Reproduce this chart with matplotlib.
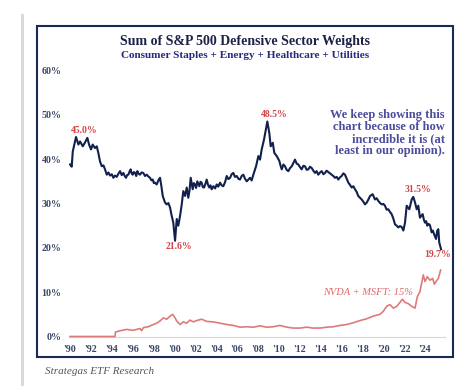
import numpy as np
import matplotlib.pyplot as plt
from matplotlib.patches import Rectangle
from matplotlib.lines import Line2D

# Datos (anio decimal, % del S&P 500)
anios_def = [1990.0, 1990.16, 1990.26, 1990.57, 1990.8, 1990.96, 1991.22, 1991.44, 1991.66, 1991.82,
             1992.01, 1992.17, 1992.39, 1992.56, 1992.71, 1992.87, 1993.04, 1993.2, 1993.35, 1993.52,
             1993.68, 1993.83, 1994.0, 1994.15, 1994.3, 1994.47, 1994.63, 1994.79, 1994.95, 1995.11,
             1995.24, 1995.36, 1995.47, 1995.58, 1995.7, 1995.81, 1995.9, 1996.0, 1996.12, 1996.23,
             1996.34, 1996.45, 1996.58, 1996.7, 1996.86, 1997.02, 1997.18, 1997.35, 1997.5, 1997.66,
             1997.8, 1997.92, 1998.03, 1998.14, 1998.3, 1998.5, 1998.62, 1998.75,
             1998.88, 1999.1, 1999.26, 1999.42, 1999.58, 1999.74, 1999.89, 2000.06, 2000.22, 2000.37, 2000.54,
             2000.7, 2000.85, 2001.02, 2001.18, 2001.33, 2001.45, 2001.56, 2001.75, 2001.86, 2001.97, 2002.08,
             2002.19, 2002.39, 2002.5, 2002.61, 2002.72, 2002.84, 2002.96, 2003.09, 2003.22, 2003.34, 2003.45,
             2003.57, 2003.73, 2003.9, 2004.05, 2004.2, 2004.37, 2004.52, 2004.68, 2004.85, 2005.01,
             2005.17, 2005.33, 2005.48, 2005.64, 2005.8, 2005.97, 2006.12, 2006.28, 2006.44, 2006.6, 2006.76,
             2006.93, 2007.08, 2007.24, 2007.4, 2007.56, 2007.82, 2008.04,
             2008.2, 2008.36, 2008.58, 2008.75, 2008.9, 2009.09, 2009.22, 2009.42, 2009.57, 2009.8,
             2010.05, 2010.16, 2010.28, 2010.44, 2010.59, 2010.75, 2010.91, 2011.08, 2011.24, 2011.4, 2011.55,
             2011.71, 2011.87, 2012.03, 2012.19, 2012.35, 2012.51, 2012.67, 2012.83, 2012.99, 2013.15, 2013.31,
             2013.47, 2013.62, 2013.78, 2013.95, 2014.11, 2014.27, 2014.43, 2014.58, 2014.74, 2014.9, 2015.07,
             2015.22, 2015.38, 2015.54, 2015.7, 2015.86, 2016.02, 2016.18, 2016.34, 2016.5, 2016.66, 2016.82,
             2016.98, 2017.14, 2017.3, 2017.46, 2017.61, 2017.78, 2017.94, 2018.1, 2018.26, 2018.42, 2018.58,
             2018.74, 2018.99,
             2019.21, 2019.37, 2019.53, 2019.7, 2019.86, 2020.02, 2020.17, 2020.33, 2020.49, 2020.65, 2020.81,
             2020.97, 2021.13, 2021.29, 2021.45, 2021.61, 2021.77, 2021.93,
             2022.09, 2022.25, 2022.5, 2022.73, 2022.88, 2023.05, 2023.21, 2023.36, 2023.52, 2023.78,
             2023.9, 2024.0, 2024.12, 2024.22, 2024.35, 2024.48, 2024.64, 2024.76, 2024.87, 2025.06, 2025.18,
             2025.28, 2025.37, 2025.54]
defensivos = [38.8, 38.3, 41.7, 45.0, 43.3, 44.0, 42.9, 43.8, 44.8, 43.3,
              42.2, 43.3, 42.5, 42.9, 41.4, 39.5, 38.4, 38.6, 37.7, 36.5,
              37.0, 36.3, 36.6, 35.8, 36.3, 36.0, 36.7, 37.3, 36.4, 36.9,
              36.2, 35.8, 36.4, 36.5, 37.2, 37.7, 36.8, 36.5, 37.1, 36.9,
              36.2, 37.3, 36.7, 36.5, 37.0, 36.9, 36.2, 36.5, 36.1, 35.8,
              35.2, 35.4, 34.6, 34.7, 34.3, 35.4, 35.8, 33.9,
              31.7, 30.2, 29.8, 30.1, 29.1, 27.2, 25.7, 21.6, 26.5, 25.0, 27.2,
              29.8, 32.8, 31.7, 33.6, 31.3, 33.0, 35.8, 33.2, 34.6, 34.3, 33.5,
              35.0, 33.9, 34.9, 34.7, 33.7, 33.6, 34.4, 35.4, 34.2, 33.6, 34.1,
              33.2, 33.9, 33.4, 34.3, 33.8, 34.7, 34.1, 33.9, 34.8, 36.2,
              35.5, 35.8, 36.6, 36.9, 36.0, 36.2, 35.6, 35.4, 36.2, 36.5, 35.6,
              35.0, 35.4, 35.8, 35.2, 36.5, 38.4, 40.7,
              39.9, 42.2, 44.4, 46.6, 48.5, 45.9, 42.9, 43.7, 41.4, 40.7,
              39.6, 38.6, 37.7, 38.8, 38.4, 37.6, 37.3, 38.0, 38.4, 39.2, 39.9,
              39.0, 38.8, 38.2, 37.7, 38.5, 38.4, 37.6, 37.7, 38.3, 38.0, 37.4,
              36.9, 37.3, 36.5, 37.0, 37.3, 36.6, 36.9, 37.4, 37.1, 36.8, 36.5,
              36.2, 35.8, 36.0, 35.4, 35.9, 36.2, 36.8, 36.5, 35.6, 34.7, 34.2,
              33.6, 33.9, 33.2, 32.6, 31.7, 31.3, 30.9, 30.4, 29.8, 30.2, 30.9,
              31.7, 32.1,
              30.9, 31.2, 30.6, 30.1, 29.8, 29.9, 29.5, 28.6, 28.7, 28.1, 27.6,
              26.6, 25.3, 25.0, 24.6, 24.9, 24.7, 23.9,
              25.7, 29.5, 28.7, 30.9, 31.5, 30.2, 28.7, 29.5, 26.8, 27.6,
              26.3, 25.7, 26.0, 25.0, 25.4, 25.1, 23.5, 23.9, 23.1, 22.0, 23.9,
              24.2, 21.2, 19.7]

anios_nm = [1990.0, 1994.31, 1994.35, 1994.79, 1995.43, 1996.07, 1996.7, 1996.86, 1997.02, 1997.5,
            1997.98, 1998.3, 1998.62, 1998.94, 1999.26, 1999.58, 1999.83, 2000.06, 2000.22, 2000.54,
            2000.85, 2001.18, 2001.49, 2001.81, 2002.13, 2002.61, 2003.09, 2003.73, 2004.37, 2005.01,
            2005.64, 2006.28, 2006.93, 2007.56, 2008.2, 2008.84, 2009.47, 2010.11, 2010.76, 2011.39,
            2012.03, 2012.67, 2013.3, 2013.95, 2014.59, 2015.22, 2015.86, 2016.5, 2017.14, 2017.78,
            2018.42, 2019.05, 2019.69, 2020.01, 2020.33, 2020.65, 2020.97, 2021.29, 2021.61, 2021.83,
            2022.09, 2022.41, 2022.73, 2023.05, 2023.27, 2023.52, 2023.68, 2023.84, 2024.0, 2024.22,
            2024.48, 2024.74, 2024.9, 2025.06, 2025.28, 2025.5]
nvda_msft = [0.0, 0.0, 1.0, 1.3, 1.6, 1.4, 1.8, 1.3, 2.0, 2.2,
             2.7, 3.0, 3.5, 4.2, 3.9, 4.6, 5.0, 4.2, 3.5, 2.7,
             3.3, 3.0, 3.7, 3.3, 3.6, 3.9, 3.4, 3.3, 3.0, 2.7,
             2.5, 2.1, 2.2, 2.1, 2.4, 2.1, 2.2, 2.5, 2.1, 1.9,
             1.9, 2.1, 1.9, 1.9, 2.1, 2.2, 2.5, 2.7, 3.1, 3.6,
             4.0, 4.6, 5.0, 5.7, 6.8, 7.2, 6.4, 6.8, 7.7, 8.4,
             7.7, 7.4, 6.8, 6.4, 9.0, 10.1, 12.0, 13.9, 12.4, 13.5,
             12.7, 13.1, 11.8, 12.4, 13.1, 15.0]

ticks_x = list(range(1990, 2025, 2))
etiquetas_x = ["'%02d" % (a % 100) for a in ticks_x]
ticks_y = [0, 10, 20, 30, 40, 50, 60]

# Etiquetas de puntos destacados (anio, valor, texto)
picos = [(1991.34, 46.5, '45.0%'), (2009.54, 50.0, '48.5%'), (2000.44, 20.4, '21.6%'),
         (2023.33, 33.1, '31.5%'), (2025.25, 18.4, '19.7%')]

navy = '#12204d'
rojo = '#d0464c'
serif = 'Liberation Serif'

fig = plt.figure(figsize=(4.72, 3.86), dpi=100)
ax = fig.add_axes([69/472, 49.5/386, 376/472, 266/386])

ax.plot(anios_nm, nvda_msft, color='#e07a7a', lw=1.2, zorder=3, clip_on=False)
ax.plot(anios_def, defensivos, color=navy, lw=1.5, zorder=4)

ax.set_xlim(1989.9, 2025.92)
ax.set_ylim(0, 60)
ax.set_xticks(ticks_x)
ax.set_xticklabels(etiquetas_x)
ax.set_yticks(ticks_y)
ax.set_yticklabels(['%d%%' % v for v in ticks_y])
ax.tick_params(length=0, labelsize=7.2, labelcolor='#3b4766')
ax.tick_params(axis='x', pad=6)
ax.tick_params(axis='y', pad=5.5)
for lab in ax.get_xticklabels() + ax.get_yticklabels():
    lab.set_fontfamily(serif)
    lab.set_fontweight('bold')
for s in ['top', 'right', 'left']:
    ax.spines[s].set_visible(False)
ax.spines['bottom'].set_color('#d5d5d5')
ax.spines['bottom'].set_linewidth(0.8)

for x, y, t in picos:
    ax.text(x, y, t, color=rojo, fontsize=7, fontweight='bold', family=serif,
            ha='center', va='center')
ax.text(2018.5, 10.0, 'NVDA + MSFT: 15%', color='#e06666', fontsize=7.5, style='italic',
        family=serif, ha='center', va='center')

# Titulos y comentario
fig.text(245/472, 1 - 41.7/386, 'Sum of S&P 500 Defensive Sector Weights', color='#1c2247',
         fontsize=10, fontweight='bold', family=serif, ha='center', va='center')
fig.text(245/472, 1 - 55/386, 'Consumer Staples + Energy + Healthcare + Utilities', color='#28287e',
         fontsize=8.1, fontweight='bold', family=serif, ha='center', va='center')
fig.text(445/472, 1 - 133/386,
         'We keep showing this\nchart because of how\nincredible it is (at\nleast in our opinion).',
         color='#4d4d9e', fontsize=9, fontweight='bold', family=serif, ha='right', va='center',
         linespacing=0.98)
fig.text(45/472, 1 - 371.7/386, 'Strategas ETF Research', color='#555555', fontsize=8,
         style='italic', family=serif, ha='left', va='center')

# Marco del grafico y linea gris a la izquierda
fig.patches.append(Rectangle((37.3/472, 29.3/386), 416/472, 330.7/386, transform=fig.transFigure,
                             fill=False, edgecolor='#1b2a55', lw=1.5))
fig.lines.append(Line2D([21.7/472, 21.7/472], [0, 1 - 15/386], transform=fig.transFigure,
                        color='#dadada', lw=2.2))

fig.savefig('out.png', dpi=100)
